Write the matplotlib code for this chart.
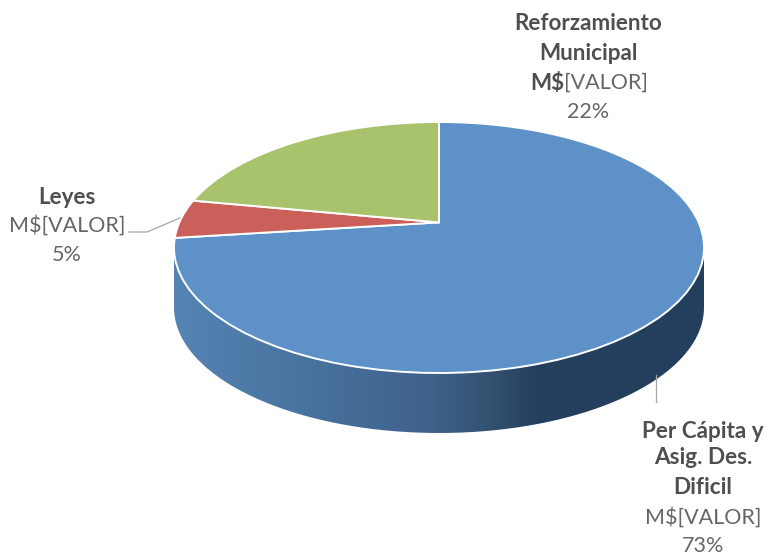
import numpy as np
import matplotlib
matplotlib.use("Agg")
import matplotlib.pyplot as plt
from matplotlib.colors import LinearSegmentedColormap
from matplotlib.patches import PathPatch
from matplotlib.path import Path
from matplotlib.transforms import Affine2D, Transform

categories = ["Per Cápita y Asig. Des. Dificil", "Leyes", "Reforzamiento Municipal"]
values = [73, 5, 22]
percent_labels = ["73%", "5%", "22%"]
value_label = "[VALOR]"
slice_colors = ["#5D91C8", "#CB5F59", "#A9C26C"]

W, H = 765, 555
CX, CY, RX, RY, DEPTH = 439, 247.5, 265, 125.5, 60
TILT = 0.2
BOLD = "#4F4F4F"
REG = "#666666"
FS_BOLD = 16.2
FS_REG = 15.5
plt.rcParams["font.family"] = ["Lato", "DejaVu Sans"]


class Perspective(Transform):
    input_dims = output_dims = 2

    def transform_non_affine(self, xy):
        xy = np.asarray(xy, float)
        d = 1 + TILT * xy[:, 1]
        return np.column_stack((np.sqrt(1 - TILT ** 2) * xy[:, 0] / d, (xy[:, 1] + TILT) / d))


fig = plt.figure(figsize=(W / 100, H / 100), dpi=100)
ax = fig.add_axes([0, 0, 1, 1])

# side wall
t = np.linspace(0, np.pi, 300)
sx, sy = CX + RX * np.cos(t), CY + RY * np.sin(t)
side_xy = np.vstack((np.column_stack((sx, sy + DEPTH)), np.column_stack((sx[::-1], sy[::-1]))))
cmap = LinearSegmentedColormap.from_list(
    "side", [(0, "#5584B3"), (0.18, "#4C77A4"), (0.48, "#3F628C"), (0.6, "#33506F"),
             (0.69, "#243F5D"), (1, "#243F5D")])
im = ax.imshow(np.linspace(0, 1, 512)[None, :], cmap=cmap, aspect="auto",
               extent=(CX - RX, CX + RX, CY + RY + DEPTH, CY), zorder=1)
clip = PathPatch(Path(side_xy), transform=ax.transData, facecolor="none", edgecolor="none")
ax.add_patch(clip)
im.set_clip_path(clip)

# top face
wedges, _ = ax.pie(values, colors=slice_colors, startangle=90, counterclock=False, radius=1,
                   wedgeprops=dict(edgecolor="white", linewidth=1.4, zorder=2))
to_px = Perspective() + Affine2D().scale(RX, -RY).translate(CX, CY) + ax.transData
for w in wedges:
    w.set_transform(to_px)
    w.set_zorder(2)

ax.set_aspect("auto")
ax.set_xlim(0, W)
ax.set_ylim(H, 0)
ax.axis("off")

# leader lines
ax.plot([129, 147, 180], [232, 232, 218], color="#A6A6A6", lw=0.9, zorder=3)
ax.plot([656, 656], [375, 402], color="#A6A6A6", lw=0.9, zorder=3)


def label(x, y, s, bold=False, ha="center"):
    ax.text(x, y, s, ha=ha, va="center", fontsize=FS_BOLD if bold else FS_REG,
            color=BOLD if bold else REG, fontweight="bold" if bold else "normal")


label(588, 24, "Reforzamiento", True)
label(588, 53, "Municipal", True)
label(564, 83, "M$", True, ha="right")
label(564, 83, value_label, ha="left")
label(588, 112, percent_labels[2])

label(67, 198, "Leyes", True)
label(67, 225, "M$" + value_label)
label(67, 255, percent_labels[1])

label(703, 431, "Per Cápita y", True)
label(703, 457, "Asig. Des.", True)
label(703, 487, "Dificil", True)
label(703, 517, "M$" + value_label)
label(703, 546, percent_labels[0])

fig.savefig("out.png", dpi=100, facecolor="white")
